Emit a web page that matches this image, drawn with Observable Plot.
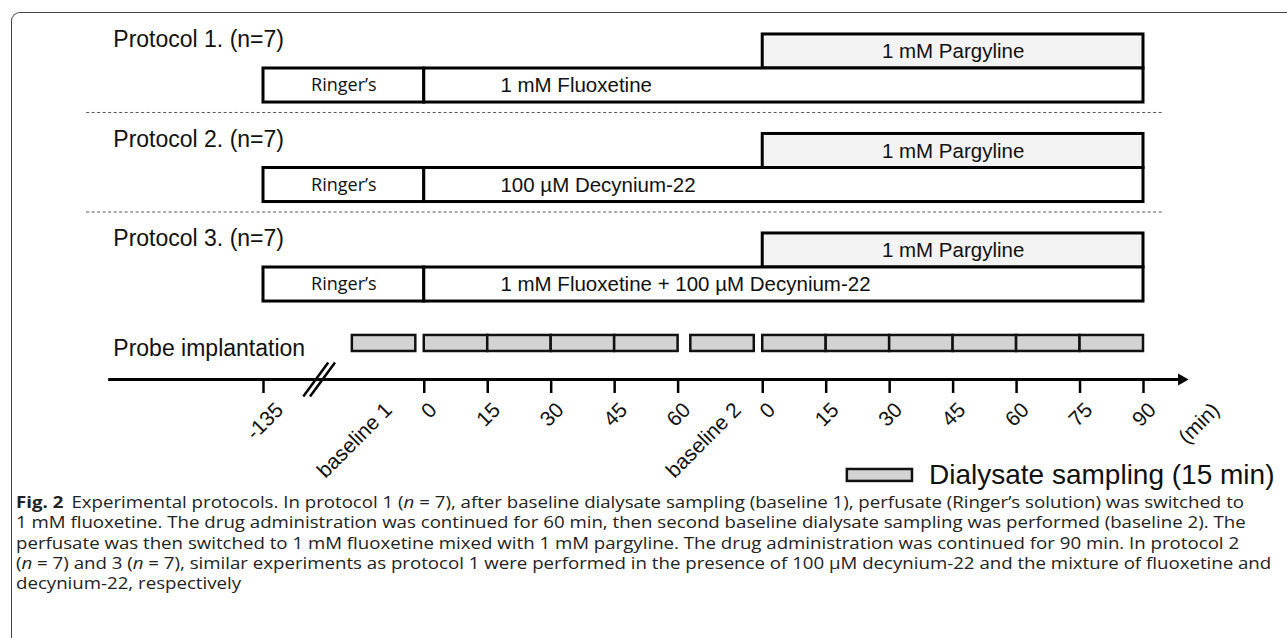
<!DOCTYPE html>
<html><head><meta charset="utf-8">
<script src="https://cdn.jsdelivr.net/npm/d3@7"></script>
<script src="https://cdn.jsdelivr.net/npm/@observablehq/plot@0.6"></script>
<style>
html,body{margin:0;padding:0;background:#fff;width:1287px;height:638px;overflow:hidden;}
#card{position:absolute;left:11px;top:12px;width:1300px;height:700px;border-top:1.3px solid #444;border-left:1.3px solid #444;border-top-left-radius:9px;}
#chart{position:absolute;left:0;top:0;}
#caption{position:absolute;left:16px;top:492px;font-family:"Open Sans","Liberation Sans",Arial,sans-serif;font-size:16px;line-height:20.3px;color:#222;white-space:nowrap;}
#caption div{transform-origin:0 50%;width:max-content;}
#caption b{font-weight:700;margin-right:7px;}
</style></head><body>
<div id="card"></div>
<div id="chart"></div>
<div id="caption">
<div><b>Fig. 2</b>Experimental protocols. In protocol 1 (<i>n</i> = 7), after baseline dialysate sampling (baseline 1), perfusate (Ringer’s solution) was switched to</div>
<div>1 mM fluoxetine. The drug administration was continued for 60 min, then second baseline dialysate sampling was performed (baseline 2). The</div>
<div>perfusate was then switched to 1 mM fluoxetine mixed with 1 mM pargyline. The drug administration was continued for 90 min. In protocol 2</div>
<div>(<i>n</i> = 7) and 3 (<i>n</i> = 7), similar experiments as protocol 1 were performed in the presence of 100 µM decynium-22 and the mixture of fluoxetine and</div>
<div>decynium-22, respectively</div>
</div>
<script>
// ---- data ----
const protocols = ["Protocol 1. (n=7)", "Protocol 2. (n=7)", "Protocol 3. (n=7)"];
const drugs = ["1 mM Fluoxetine", "100 µM Decynium-22", "1 mM Fluoxetine + 100 µM Decynium-22"];
const ringerLabel = "Ringer’s";
const addOnLabel = "1 mM Pargyline";
// schematic time axis (drawing minutes)
const ringerSpan = [-38, 0];
const drugSpan = [0, 170];
const addOnSpan = [80, 170];
const sampleStarts = [-17, 0, 15, 30, 45, 63, 80, 95, 110, 125, 140, 155];
const sampleLength = 15;
const tickPos = [-38, 0, 15, 30, 45, 60, 80, 95, 110, 125, 140, 155, 170];
const axisLabels = ["-135", "baseline 1", "0", "15", "30", "45", "60", "baseline 2", "0", "15", "30", "45", "60", "75", "90", "(min)"];
const axisLabelPos = [-36.3, -10.6, 0, 15, 30, 45, 60, 71.9, 80, 95, 110, 125, 140, 155, 170, 185];
const legendLabel = "Dialysate sampling (15 min)";
const probeLabel = "Probe implantation";

// ---- layout (lane units) ----
const Y = {title: -0.29, addTop: -0.342, mainTop: 0, mainBot: 0.342, sep: 0.442,
  sampTop: 2.683, sampBot: 2.844, probe: 2.814, axis: 3.126, tickBot: 3.266, label: 3.397, legend: 4.09};
const leftX = -73.5, drugTextX = 18, sepX = [-79.8, 174.7], axisX = [-74.6, 179];
const legendBox = [100, 115.4], legendTextX = 119.3;

const rows = protocols.map((t, i) => ({i, title: t, drug: drugs[i]}));
const samples = sampleStarts.map(s => ({x1: s, x2: s + sampleLength}));
const breaks = [{x1: -28.6, x2: -22.7}, {x1: -27.0, x2: -21.1}];

const chart = Plot.plot({
  width: 1287, height: 500, margin: 0,
  x: {domain: [-38, 170], range: [263, 1143], axis: null},
  y: {domain: [0, 4], range: [68, 466], axis: null},
  style: {fontFamily: "'Liberation Sans', Arial, sans-serif", background: "transparent", overflow: "visible", color: "#111"},
  marks: [
    Plot.ruleY(rows.slice(0, 2), {y: d => d.i + Y.sep, x1: () => sepX[0], x2: () => sepX[1], stroke: "#555", strokeWidth: 1, strokeDasharray: "3,2.5"}),
    Plot.rect(rows, {x1: () => addOnSpan[0], x2: () => addOnSpan[1], y1: d => d.i + Y.addTop, y2: d => d.i + Y.mainTop, fill: "#f2f3f2", stroke: "#000", strokeWidth: 3}),
    Plot.rect(rows, {x1: () => ringerSpan[0], x2: () => ringerSpan[1], y1: d => d.i + Y.mainTop, y2: d => d.i + Y.mainBot, fill: "#fff", stroke: "#000", strokeWidth: 3}),
    Plot.rect(rows, {x1: () => drugSpan[0], x2: () => drugSpan[1], y1: d => d.i + Y.mainTop, y2: d => d.i + Y.mainBot, fill: "#fff", stroke: "#000", strokeWidth: 3}),
    Plot.text(rows, {x: () => leftX, y: d => d.i + Y.title, text: "title", textAnchor: "start", fontSize: 23, fill: "#111"}),
    Plot.text(rows, {x: () => (ringerSpan[0] + ringerSpan[1]) / 2, y: d => d.i + (Y.mainTop + Y.mainBot) / 2, text: () => ringerLabel, fontFamily: "'Open Sans', sans-serif", fontSize: 18, fill: "#111"}),
    Plot.text(rows, {x: () => drugTextX, y: d => d.i + (Y.mainTop + Y.mainBot) / 2, text: "drug", textAnchor: "start", fontSize: 20.5, fill: "#111"}),
    Plot.text(rows, {x: () => (addOnSpan[0] + addOnSpan[1]) / 2, y: d => d.i + (Y.addTop + Y.mainTop) / 2, text: () => addOnLabel, fontSize: 20.5, fill: "#111"}),
    Plot.rect(samples, {x1: "x1", x2: "x2", y1: () => Y.sampTop, y2: () => Y.sampBot, fill: "#d3d3d3", stroke: "#111", strokeWidth: 2.5}),
    Plot.text([probeLabel], {x: () => leftX, y: () => Y.probe, text: d => d, textAnchor: "start", fontSize: 23, fill: "#111"}),
    Plot.ruleY([Y.axis], {x1: () => axisX[0], x2: () => axisX[1], stroke: "#000", strokeWidth: 3}),
    Plot.dot([axisX[1]], {x: d => d, y: () => Y.axis, symbol: "triangle", rotate: 90, r: 4.5, fill: "#000", stroke: "none"}),
    Plot.ruleX(tickPos, {x: d => d, y1: () => Y.axis, y2: () => Y.tickBot, stroke: "#000", strokeWidth: 2.5}),
    Plot.link(breaks, {x1: "x1", x2: "x2", y1: () => 3.296, y2: () => 2.955, stroke: "#000", strokeWidth: 2.5}),
    Plot.text(axisLabels, {x: (d, i) => axisLabelPos[i], y: () => Y.label, text: d => d, rotate: -45, textAnchor: "end", dx: 9, fontSize: 21, fill: "#111"}),
    Plot.rect([legendLabel], {x1: () => legendBox[0], x2: () => legendBox[1], y1: () => Y.legend - 0.06, y2: () => Y.legend + 0.06, fill: "#d3d3d3", stroke: "#111", strokeWidth: 2.5}),
    Plot.text([legendLabel], {x: () => legendTextX, y: () => Y.legend, text: d => d, textAnchor: "start", fontSize: 28, fill: "#111"})
  ]
});
document.getElementById("chart").appendChild(chart);

// fit caption lines to the reference width
const lines = document.querySelectorAll("#caption div");
const w1 = lines[0].getBoundingClientRect().width;
const k = 1228 / w1;
lines.forEach(l => { l.style.transform = `scaleX(${k})`; });
</script>
</body></html>
